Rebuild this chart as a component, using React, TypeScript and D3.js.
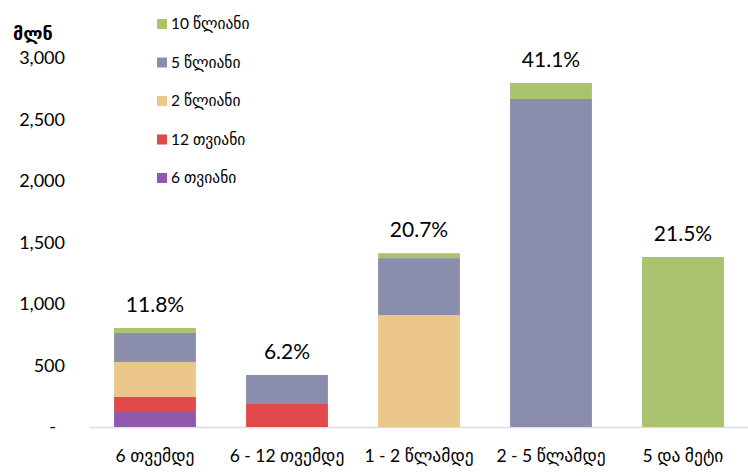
import * as d3 from 'd3';

const W = 748;
const H = 476;

const categories = ['6 თვემდე', '6 - 12 თვემდე', '1 - 2 წლამდე', '2 - 5 წლამდე', '5 და მეტი'];
const seriesNames = ['6 თვიანი', '12 თვიანი', '2 წლიანი', '5 წლიანი', '10 წლიანი'];
const seriesColors = ['#9159ae', '#e04a4a', '#ebc78b', '#8a8eac', '#abc26f'];

// values in millions, per series, per category
const m6 = [122, 0, 0, 0, 0];
const m12 = [122, 187, 0, 0, 0];
const y2 = [285, 0, 910, 0, 0];
const y5 = [236, 236, 463, 2667, 0];
const y10 = [40, 0, 40, 130, 1382];

const shareLabels = ['11.8%', '6.2%', '20.7%', '41.1%', '21.5%'];
const yTicks = [0, 500, 1000, 1500, 2000, 2500, 3000];

const FONT = 'Lato, "DejaVu Sans", sans-serif';

export default function App() {
  const series = [m6, m12, y2, y5, y10];
  const rows = categories.map((c, i) => {
    const r: Record<string, any> = { cat: c };
    seriesNames.forEach((s, j) => (r[s] = series[j][i]));
    return r;
  });
  const stacked = d3.stack<any>().keys(seriesNames)(rows);
  const totals = categories.map((_, i) => d3.sum(series, (s) => s[i]));

  const x = d3.scaleBand().domain(categories).range([89, 749]).paddingInner(0.38).paddingOuter(0.19);
  const y = d3.scaleLinear().domain([0, 3000]).range([427, 58]);
  const fmt = d3.format(',');

  // legend drawn top-down: 10 წლიანი first
  const legendOrder = seriesNames.map((n, i) => ({ n, c: seriesColors[i] })).reverse();

  return (
    <svg width={W} height={H} style={{ position: 'absolute', left: 0, top: 0, background: '#fff' }} fontFamily={FONT}>
      <text x={13} y={40} fontSize={18} fontWeight="bold" fill="#000">მლნ</text>

      {yTicks.map((t) => (
        <text key={t} x={t === 0 ? 56 : 65} y={y(t)} dy="0.35em" fontSize={18} textAnchor="end" fill="#000">
          {t === 0 ? '-' : fmt(t)}
        </text>
      ))}

      <line x1={90} x2={748} y1={y(0) + 0.5} y2={y(0) + 0.5} stroke="#d9dde8" strokeWidth={1.5} />

      {stacked.map((layer, j) => (
        <g key={layer.key} fill={seriesColors[j]}>
          {layer.map((d, i) =>
            d[1] - d[0] > 0 ? (
              <rect
                key={i}
                x={x(categories[i])!}
                width={x.bandwidth()}
                y={y(d[1])}
                height={y(d[0]) - y(d[1])}
              />
            ) : null
          )}
        </g>
      ))}

      {categories.map((c, i) => (
        <text
          key={c}
          x={x(c)! + x.bandwidth() / 2}
          y={y(totals[i]) - 16}
          fontSize={21}
          textAnchor="middle"
          fill="#000"
        >
          {shareLabels[i]}
        </text>
      ))}

      {categories.map((c) => (
        <text key={c} x={x(c)! + x.bandwidth() / 2} y={462} fontSize={17.5} textAnchor="middle" fill="#000">
          {c}
        </text>
      ))}

      {legendOrder.map((d, i) => (
        <g key={d.n} transform={`translate(157, ${24 + i * 38.5})`}>
          <rect x={0} y={-5} width={10} height={10} fill={d.c} />
          <text x={14} y={0} dy="0.35em" fontSize={15.5} fill="#000">{d.n}</text>
        </g>
      ))}
    </svg>
  );
}
